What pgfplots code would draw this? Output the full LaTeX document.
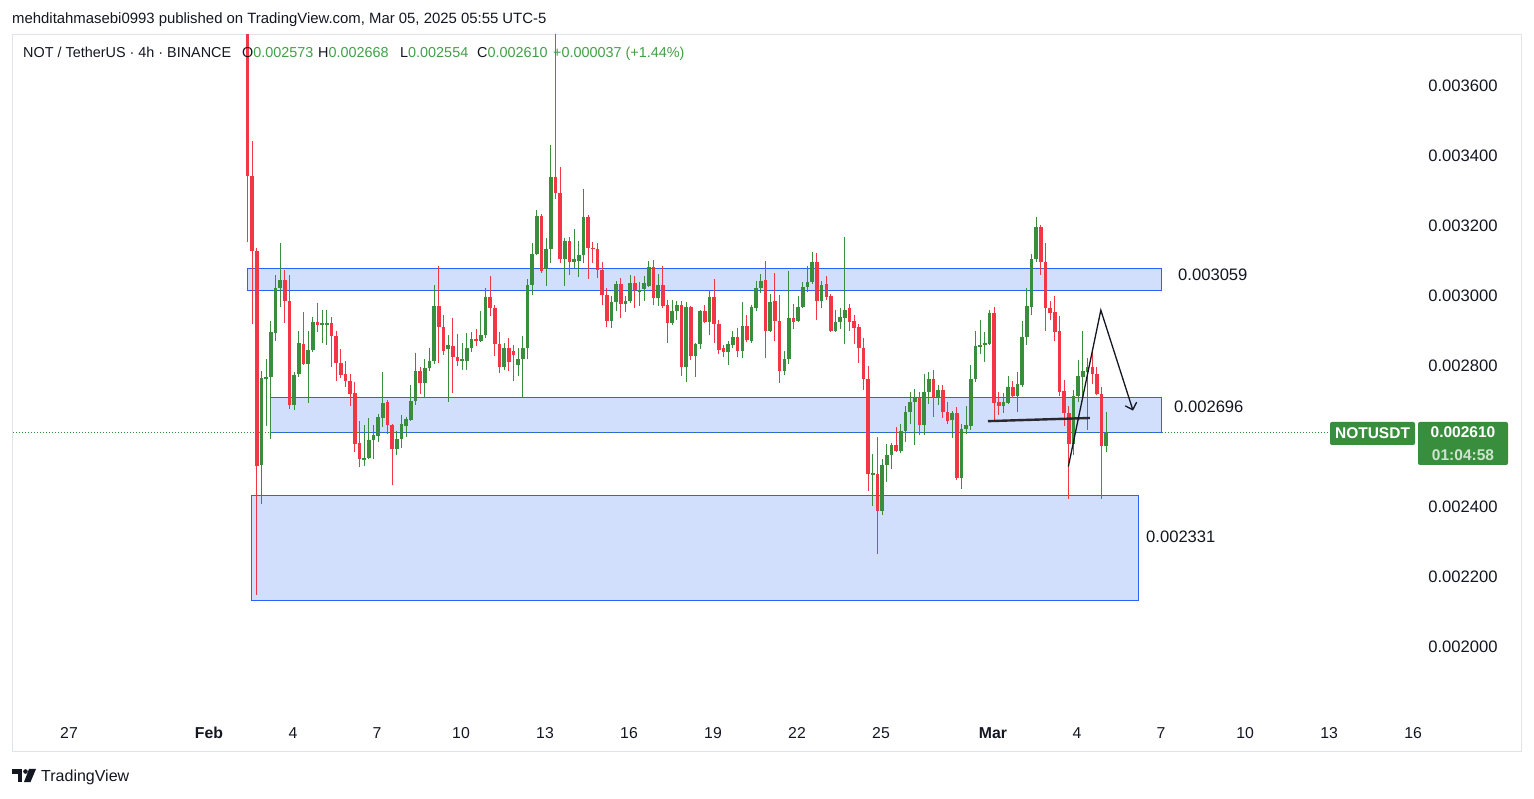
\documentclass[border=0pt]{standalone}
\usepackage{fontspec}
\setmainfont{Liberation Sans}
\usepackage{pgfplots}
\pgfplotsset{compat=1.18}
\usepackage{pgfplotstable}
\usetikzlibrary{arrows.meta}
\definecolor{tvgreen}{RGB}{56,142,60}
\definecolor{lgreen}{RGB}{67,160,71}
\definecolor{tvred}{RGB}{242,54,69}
\definecolor{tvtext}{RGB}{19,23,34}
\definecolor{boxfill}{RGB}{209,222,252}
\definecolor{boxline}{RGB}{41,98,255}
\definecolor{framegray}{RGB}{224,227,235}
\newcommand{\fs}[1]{\fontsize{#1bp}{#1bp}\selectfont}

\pgfplotstableread{
i o h l c
0 0.003880 0.003900 0.003154 0.003340
1 0.003341 0.003440 0.002919 0.003126
2 0.003128 0.003136 0.002148 0.002515
3 0.002517 0.002787 0.002408 0.002766
4 0.002766 0.002819 0.002630 0.002768
5 0.002768 0.002929 0.002591 0.002898
6 0.002894 0.003060 0.002871 0.003023
7 0.003023 0.003149 0.002969 0.003046
8 0.003046 0.003073 0.002922 0.002985
9 0.002985 0.003060 0.002677 0.002688
10 0.002688 0.002782 0.002674 0.002775
11 0.002777 0.002901 0.002770 0.002866
12 0.002864 0.002953 0.002803 0.002806
13 0.002806 0.002901 0.002696 0.002845
14 0.002845 0.002940 0.002840 0.002924
15 0.002924 0.002978 0.002896 0.002917
16 0.002918 0.002960 0.002866 0.002921
17 0.002919 0.002960 0.002859 0.002921
18 0.002922 0.002940 0.002798 0.002885
19 0.002885 0.002901 0.002758 0.002808
20 0.002808 0.002848 0.002766 0.002774
21 0.002777 0.002814 0.002740 0.002756
22 0.002758 0.002777 0.002686 0.002721
23 0.002724 0.002754 0.002555 0.002578
24 0.002582 0.002643 0.002513 0.002534
25 0.002534 0.002632 0.002515 0.002539
26 0.002538 0.002651 0.002536 0.002590
27 0.002590 0.002632 0.002534 0.002603
28 0.002601 0.002664 0.002585 0.002656
29 0.002653 0.002782 0.002625 0.002695
30 0.002698 0.002704 0.002607 0.002632
31 0.002632 0.002634 0.002462 0.002565
32 0.002565 0.002614 0.002548 0.002593
33 0.002593 0.002661 0.002567 0.002635
34 0.002630 0.002656 0.002599 0.002649
35 0.002646 0.002745 0.002643 0.002701
36 0.002701 0.002838 0.002688 0.002787
37 0.002787 0.002796 0.002719 0.002753
38 0.002753 0.002819 0.002712 0.002795
39 0.002795 0.002850 0.002785 0.002814
40 0.002814 0.003031 0.002806 0.002971
41 0.002971 0.003086 0.002808 0.002911
42 0.002911 0.002945 0.002830 0.002842
43 0.002847 0.002887 0.002698 0.002861
44 0.002856 0.002936 0.002722 0.002826
45 0.002826 0.002890 0.002800 0.002814
46 0.002816 0.002866 0.002789 0.002819
47 0.002814 0.002894 0.002789 0.002852
48 0.002852 0.002896 0.002840 0.002877
49 0.002877 0.002905 0.002856 0.002871
50 0.002871 0.002957 0.002868 0.002889
51 0.002889 0.003023 0.002880 0.002997
52 0.002997 0.003055 0.002943 0.002966
53 0.002966 0.002974 0.002829 0.002863
54 0.002863 0.002896 0.002779 0.002796
55 0.002796 0.002865 0.002789 0.002850
56 0.002850 0.002879 0.002785 0.002811
57 0.002843 0.002859 0.002758 0.002831
58 0.002803 0.002850 0.002772 0.002821
59 0.002821 0.002884 0.002712 0.002852
60 0.002852 0.003048 0.002819 0.003031
61 0.003031 0.003149 0.003002 0.003118
62 0.003118 0.003244 0.003115 0.003228
63 0.003228 0.003233 0.003065 0.003071
64 0.003076 0.003163 0.003027 0.003134
65 0.003134 0.003429 0.003092 0.003338
66 0.003338 0.003745 0.003275 0.003293
67 0.003293 0.003366 0.003094 0.003104
68 0.003104 0.003165 0.003027 0.003157
69 0.003157 0.003167 0.003058 0.003095
70 0.003095 0.003191 0.003079 0.003104
71 0.003100 0.003157 0.003052 0.003116
72 0.003116 0.003303 0.003092 0.003225
73 0.003225 0.003230 0.003048 0.003137
74 0.003137 0.003152 0.003092 0.003134
75 0.003134 0.003151 0.003050 0.003074
76 0.003074 0.003097 0.002974 0.003002
77 0.003002 0.003023 0.002911 0.002929
78 0.002929 0.002999 0.002908 0.002981
79 0.002981 0.003041 0.002957 0.003034
80 0.003034 0.003050 0.002936 0.002976
81 0.002976 0.002999 0.002953 0.002985
82 0.002985 0.003058 0.002978 0.003036
83 0.003036 0.003055 0.002966 0.003016
84 0.003013 0.003039 0.002971 0.003016
85 0.003020 0.003055 0.002985 0.003037
86 0.003029 0.003100 0.003026 0.003081
87 0.003081 0.003102 0.002974 0.002994
88 0.002994 0.003062 0.002970 0.003031
89 0.003031 0.003086 0.002964 0.002971
90 0.002974 0.002987 0.002866 0.002921
91 0.002921 0.002987 0.002918 0.002958
92 0.002958 0.002984 0.002931 0.002973
93 0.002973 0.002984 0.002772 0.002796
94 0.002796 0.002981 0.002754 0.002968
95 0.002968 0.002970 0.002817 0.002829
96 0.002829 0.002866 0.002768 0.002863
97 0.002863 0.002960 0.002848 0.002957
98 0.002957 0.002973 0.002921 0.002926
99 0.002926 0.003015 0.002887 0.002997
100 0.002997 0.003048 0.002866 0.002919
101 0.002919 0.002931 0.002835 0.002845
102 0.002850 0.002861 0.002826 0.002840
103 0.002840 0.002871 0.002803 0.002863
104 0.002859 0.002901 0.002850 0.002882
105 0.002882 0.002908 0.002827 0.002842
106 0.002842 0.002981 0.002824 0.002915
107 0.002915 0.002945 0.002869 0.002873
108 0.002871 0.002974 0.002866 0.002968
109 0.002964 0.003041 0.002957 0.003021
110 0.003021 0.003062 0.003008 0.003041
111 0.003044 0.003100 0.002822 0.002900
112 0.002900 0.003004 0.002898 0.002981
113 0.002985 0.003065 0.002871 0.002927
114 0.002927 0.003002 0.002751 0.002787
115 0.002787 0.002842 0.002774 0.002821
116 0.002821 0.003071 0.002806 0.002936
117 0.002936 0.002976 0.002905 0.002926
118 0.002929 0.002999 0.002926 0.002968
119 0.002968 0.003039 0.002966 0.003025
120 0.003025 0.003086 0.003010 0.003039
121 0.003039 0.003125 0.003034 0.003097
122 0.003097 0.003121 0.002931 0.002985
123 0.002985 0.003041 0.002966 0.003031
124 0.003034 0.003057 0.002989 0.002997
125 0.002999 0.003004 0.002898 0.002900
126 0.002900 0.002960 0.002896 0.002924
127 0.002924 0.002966 0.002905 0.002940
128 0.002936 0.003167 0.002863 0.002960
129 0.002964 0.002976 0.002901 0.002926
130 0.002927 0.002945 0.002863 0.002908
131 0.002911 0.002919 0.002808 0.002852
132 0.002852 0.002879 0.002732 0.002764
133 0.002764 0.002800 0.002443 0.002492
134 0.002492 0.002549 0.002402 0.002494
135 0.002492 0.002599 0.002265 0.002387
136 0.002387 0.002534 0.002376 0.002518
137 0.002517 0.002578 0.002471 0.002546
138 0.002546 0.002580 0.002506 0.002574
139 0.002574 0.002627 0.002554 0.002557
140 0.002557 0.002635 0.002552 0.002614
141 0.002614 0.002685 0.002583 0.002670
142 0.002670 0.002727 0.002635 0.002698
143 0.002698 0.002735 0.002574 0.002709
144 0.002709 0.002727 0.002604 0.002633
145 0.002633 0.002777 0.002604 0.002727
146 0.002727 0.002782 0.002691 0.002764
147 0.002764 0.002790 0.002656 0.002712
148 0.002712 0.002745 0.002688 0.002732
149 0.002732 0.002745 0.002653 0.002670
150 0.002670 0.002698 0.002635 0.002643
151 0.002646 0.002672 0.002596 0.002667
152 0.002667 0.002683 0.002475 0.002481
153 0.002481 0.002635 0.002450 0.002622
154 0.002620 0.002685 0.002607 0.002632
155 0.002630 0.002803 0.002617 0.002764
156 0.002764 0.002901 0.002754 0.002856
157 0.002856 0.002932 0.002835 0.002859
158 0.002859 0.002898 0.002811 0.002866
159 0.002863 0.002960 0.002861 0.002950
160 0.002950 0.002968 0.002643 0.002696
161 0.002698 0.002727 0.002661 0.002685
162 0.002685 0.002724 0.002667 0.002698
163 0.002696 0.002772 0.002693 0.002740
164 0.002740 0.002756 0.002709 0.002714
165 0.002714 0.002782 0.002670 0.002748
166 0.002746 0.002929 0.002740 0.002882
167 0.002882 0.003023 0.002859 0.002971
168 0.002969 0.003120 0.002945 0.003104
169 0.003104 0.003225 0.003097 0.003197
170 0.003197 0.003200 0.003058 0.003095
171 0.003097 0.003149 0.002901 0.002966
172 0.002966 0.002985 0.002932 0.002952
173 0.002953 0.002999 0.002871 0.002898
174 0.002901 0.002942 0.002714 0.002727
175 0.002730 0.002761 0.002628 0.002667
176 0.002667 0.002685 0.002420 0.002578
177 0.002578 0.002733 0.002548 0.002714
178 0.002714 0.002816 0.002698 0.002772
179 0.002769 0.002901 0.002714 0.002787
180 0.002782 0.002824 0.002617 0.002796
181 0.002796 0.002850 0.002748 0.002777
182 0.002777 0.002796 0.002717 0.002719
183 0.002719 0.002740 0.002422 0.002573
184 0.002573 0.002668 0.002554 0.002610
}\candles

\begin{document}
\begin{tikzpicture}[x=1bp,y=1bp]
\useasboundingbox (0,0) rectangle (1534,798);
\fill[white] (0,0) rectangle (1534,798);
% outer frame
\draw[framegray, line width=1bp] (12.5,46) rectangle (1521,763);
\begin{axis}[
  at={(12bp,83bp)}, anchor=south west,
  scale only axis, width=1406bp, height=680bp,
  xmin=-7.036, xmax=43.18, ymin=0.0018064, ymax=0.0037424,
  axis line style={draw=none},
  major tick length=0pt,
  xtick={-5,0,3,6,9,12,15,18,21,24,28,31,34,37,40,43},
  xticklabels={27,\textbf{Feb},4,7,10,13,16,19,22,25,\textbf{Mar},4,7,10,13,16},
  ytick={0.0020,0.0022,0.0024,0.0028,0.0030,0.0032,0.0034,0.0036},
  yticklabels={0.002000,0.002200,0.002400,0.002800,0.003000,0.003200,0.003400,0.003600},
  yticklabel pos=right,
  scaled y ticks=false,
  xticklabel style={font=\fs{15.8}, text=tvtext, anchor=base, yshift=-23.5bp, inner sep=0pt},
  yticklabel style={font=\fs{16.6}, text=tvtext, anchor=base west, xshift=10bp, yshift=-6bp, inner sep=0pt},
  clip mode=individual,
  unbounded coords=discard,
]
% zones
\addplot[fill=boxfill, draw=boxline, line width=1bp] coordinates {(1.357,0.003016) (34.0,0.003016) (34.0,0.003079) (1.357,0.003079)} -- cycle;
\addplot[fill=boxfill, draw=boxline, line width=1bp] coordinates {(2.179,0.002612) (34.0,0.002612) (34.0,0.002709) (2.179,0.002709)} -- cycle;
\addplot[fill=boxfill, draw=boxline, line width=1bp] coordinates {(1.5,0.002131) (33.18,0.002131) (33.18,0.002430) (1.5,0.002430)} -- cycle;
% last price line
\addplot[tvgreen, line width=1bp, dash pattern=on 1bp off 2bp] coordinates {(-7.1,0.002610) (40.04,0.002610)};
% wicks
\addplot[draw=none, mark=none, error bars/.cd, y dir=both, y explicit, error mark=none,
  error bar style={draw=tvgreen, line width=1bp}]
  table[x expr=1.375+\thisrow{i}/6, y expr={\thisrow{c}>=\thisrow{o} ? \thisrow{c} : nan},
        y error plus expr=\thisrow{h}-\thisrow{c}, y error minus expr=\thisrow{c}-\thisrow{l}] {\candles};
\addplot[draw=none, mark=none, error bars/.cd, y dir=both, y explicit, error mark=none,
  error bar style={draw=tvred, line width=1bp}]
  table[x expr=1.375+\thisrow{i}/6, y expr={\thisrow{c}<\thisrow{o} ? \thisrow{c} : nan},
        y error plus expr=\thisrow{h}-\thisrow{c}, y error minus expr=\thisrow{c}-\thisrow{l}] {\candles};
% bodies
\addplot[draw=none, mark=none, error bars/.cd, y dir=both, y explicit, error mark=none,
  error bar style={draw=tvgreen, line width=3.4bp}]
  table[x expr=1.375+\thisrow{i}/6, y expr={\thisrow{c}>=\thisrow{o} ? (\thisrow{c}+\thisrow{o})/2 : nan},
        y error expr={max(abs(\thisrow{c}-\thisrow{o})/2,0.0000016)}] {\candles};
\addplot[draw=none, mark=none, error bars/.cd, y dir=both, y explicit, error mark=none,
  error bar style={draw=tvred, line width=3.4bp}]
  table[x expr=1.375+\thisrow{i}/6, y expr={\thisrow{c}<\thisrow{o} ? (\thisrow{c}+\thisrow{o})/2 : nan},
        y error expr={max(abs(\thisrow{c}-\thisrow{o})/2,0.0000016)}] {\candles};
% drawings
\addplot[color={rgb,255:red,40;green,42;blue,48}, line width=2.4bp] coordinates {(27.82,0.002643) (31.46,0.002652)};
\addplot[tvtext, line width=1.3bp, -{Straight Barb[length=6bp,width=12bp,line width=1.3bp]}] coordinates {(30.69,0.002514) (31.85,0.002959) (33.0,0.002673)};
\end{axis}
% zone labels
\node[anchor=base west, inner sep=0pt, text=tvtext, font=\fs{16.6}] at (1178,798-281) {0.003059};
\node[anchor=base west, inner sep=0pt, text=tvtext, font=\fs{16.6}] at (1174,798-413) {0.002696};
\node[anchor=base west, inner sep=0pt, text=tvtext, font=\fs{16.6}] at (1146,798-543) {0.002331};
% price tags
\fill[tvgreen, rounded corners=2bp] (1330,798-422) rectangle (1415,798-445);
\node[text=white, font=\fs{15.5}\bfseries, inner sep=0pt] at (1372.5,798-433.5) {NOTUSDT};
\fill[tvgreen, rounded corners=2bp] (1418,798-422) rectangle (1508,798-465);
\node[text=white, font=\fs{15.5}\bfseries, inner sep=0pt] at (1463,798-432) {0.002610};
\node[text=white!75!tvgreen, font=\fs{15.5}\bfseries, inner sep=0pt] at (1463,798-455) {01:04:58};
% header
\node[anchor=base west, inner sep=0pt, text=tvtext, font=\fs{14.9}] at (12,798-23.5) {mehditahmasebi0993 published on TradingView.com, Mar 05, 2025 05:55 UTC-5};
\node[anchor=base west, inner sep=0pt, text=tvtext, font=\fs{14.4}] at (23,798-58) {NOT / TetherUS · 4h · BINANCE};
\node[anchor=base west, inner sep=0pt, text=tvtext, font=\fs{14.4}] at (242,798-58) {O\textcolor{lgreen}{0.002573}};
\node[anchor=base west, inner sep=0pt, text=tvtext, font=\fs{14.4}] at (318,798-58) {H\textcolor{lgreen}{0.002668}};
\node[anchor=base west, inner sep=0pt, text=tvtext, font=\fs{14.4}] at (400,798-58) {L\textcolor{lgreen}{0.002554}};
\node[anchor=base west, inner sep=0pt, text=tvtext, font=\fs{14.4}] at (477,798-58) {C\textcolor{lgreen}{0.002610}};
\node[anchor=base west, inner sep=0pt, text=lgreen, font=\fs{14.4}] at (553,798-58) {+0.000037 (+1.44\%)};
% bottom logo
\fill[tvtext] (12,798-769) rectangle (22,798-773.5);
\fill[tvtext] (17.5,798-769) rectangle (22,798-782);
\fill[tvtext] (25.5,798-771.5) circle (2.3);
\fill[tvtext] (29,798-769) -- (36,798-769) -- (30.5,798-782) -- (24,798-782) -- cycle;
\node[anchor=base west, inner sep=0pt, text=tvtext, font=\fs{16}] at (41,798-781.5) {TradingView};
\end{tikzpicture}
\end{document}
